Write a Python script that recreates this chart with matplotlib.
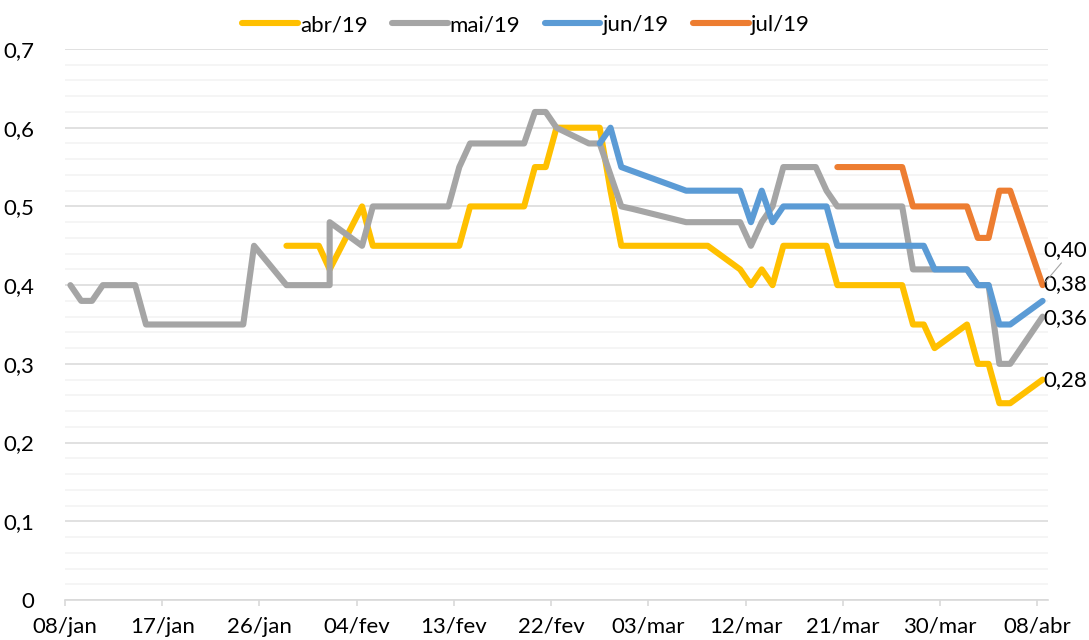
import matplotlib
matplotlib.use("Agg")
import matplotlib.pyplot as plt
import matplotlib.dates as mdates
from matplotlib.ticker import MultipleLocator

plt.rcParams['font.family'] = ['Lato', 'DejaVu Sans']

# dados (datas de negociação, valores)
abr_datas = ['2019-01-28', '2019-01-29', '2019-01-30', '2019-01-31', '2019-02-01',
             '2019-02-04', '2019-02-05', '2019-02-06', '2019-02-07', '2019-02-08',
             '2019-02-11', '2019-02-12', '2019-02-13', '2019-02-14', '2019-02-15',
             '2019-02-18', '2019-02-19', '2019-02-20', '2019-02-21', '2019-02-22',
             '2019-02-25', '2019-02-26', '2019-02-27', '2019-02-28', '2019-03-01',
             '2019-03-06', '2019-03-07', '2019-03-08', '2019-03-11', '2019-03-12',
             '2019-03-13', '2019-03-14', '2019-03-15', '2019-03-18', '2019-03-19',
             '2019-03-20', '2019-03-21', '2019-03-22', '2019-03-25', '2019-03-26',
             '2019-03-27', '2019-03-28', '2019-03-29', '2019-04-01', '2019-04-02',
             '2019-04-03', '2019-04-04', '2019-04-05', '2019-04-08']
abr_vals = [0.45, 0.45, 0.45, 0.45, 0.42,
            0.50, 0.45, 0.45, 0.45, 0.45,
            0.45, 0.45, 0.45, 0.50, 0.50,
            0.50, 0.50, 0.55, 0.55, 0.60,
            0.60, 0.60, 0.52, 0.45, 0.45,
            0.45, 0.45, 0.45, 0.42, 0.40,
            0.42, 0.40, 0.45, 0.45, 0.45,
            0.40, 0.40, 0.40, 0.40, 0.40,
            0.35, 0.35, 0.32, 0.35, 0.30,
            0.30, 0.25, 0.25, 0.28]

mai_datas = ['2019-01-08', '2019-01-09', '2019-01-10', '2019-01-11', '2019-01-14',
             '2019-01-15', '2019-01-16', '2019-01-17', '2019-01-18', '2019-01-21',
             '2019-01-22', '2019-01-23', '2019-01-24', '2019-01-25', '2019-01-28',
             '2019-01-29', '2019-01-30', '2019-01-31', '2019-02-01', '2019-02-01',
             '2019-02-04', '2019-02-05', '2019-02-06', '2019-02-07', '2019-02-08',
             '2019-02-11', '2019-02-12', '2019-02-13', '2019-02-14', '2019-02-15',
             '2019-02-18', '2019-02-19', '2019-02-20', '2019-02-21', '2019-02-22',
             '2019-02-25', '2019-02-26', '2019-02-27', '2019-02-28', '2019-03-01',
             '2019-03-06', '2019-03-07', '2019-03-08', '2019-03-11', '2019-03-12',
             '2019-03-13', '2019-03-14', '2019-03-15', '2019-03-18', '2019-03-19',
             '2019-03-20', '2019-03-21', '2019-03-22', '2019-03-25', '2019-03-26',
             '2019-03-27', '2019-03-28', '2019-03-29', '2019-04-01', '2019-04-02',
             '2019-04-03', '2019-04-04', '2019-04-05', '2019-04-08']
mai_vals = [0.40, 0.38, 0.38, 0.40, 0.40,
            0.35, 0.35, 0.35, 0.35, 0.35,
            0.35, 0.35, 0.35, 0.45, 0.40,
            0.40, 0.40, 0.40, 0.40, 0.48,
            0.45, 0.50, 0.50, 0.50, 0.50,
            0.50, 0.50, 0.55, 0.58, 0.58,
            0.58, 0.58, 0.62, 0.62, 0.60,
            0.58, 0.58, 0.54, 0.50, 0.497,
            0.48, 0.48, 0.48, 0.48, 0.45,
            0.48, 0.50, 0.55, 0.55, 0.52,
            0.50, 0.50, 0.50, 0.50, 0.50,
            0.42, 0.42, 0.42, 0.42, 0.40,
            0.40, 0.30, 0.30, 0.36]

jun_datas = ['2019-02-26', '2019-02-27', '2019-02-28', '2019-03-01', '2019-03-06',
             '2019-03-07', '2019-03-08', '2019-03-11', '2019-03-12', '2019-03-13',
             '2019-03-14', '2019-03-15', '2019-03-18', '2019-03-19', '2019-03-20',
             '2019-03-21', '2019-03-22', '2019-03-25', '2019-03-26', '2019-03-27',
             '2019-03-28', '2019-03-29', '2019-04-01', '2019-04-02', '2019-04-03',
             '2019-04-04', '2019-04-05', '2019-04-08']
jun_vals = [0.58, 0.60, 0.55, 0.545, 0.52,
            0.52, 0.52, 0.52, 0.48, 0.52,
            0.48, 0.50, 0.50, 0.50, 0.45,
            0.45, 0.45, 0.45, 0.45, 0.45,
            0.45, 0.42, 0.42, 0.40, 0.40,
            0.35, 0.35, 0.38]

jul_datas = ['2019-03-20', '2019-03-21', '2019-03-22', '2019-03-25', '2019-03-26',
             '2019-03-27', '2019-03-28', '2019-03-29', '2019-04-01', '2019-04-02',
             '2019-04-03', '2019-04-04', '2019-04-05', '2019-04-08']
jul_vals = [0.55, 0.55, 0.55, 0.55, 0.55,
            0.50, 0.50, 0.50, 0.50, 0.46,
            0.46, 0.52, 0.52, 0.40]

series_names = ['abr/19', 'mai/19', 'jun/19', 'jul/19']
cores = ['#FFC000', '#A5A5A5', '#5B9BD5', '#ED7D31']

tick_datas = ['2019-01-08', '2019-01-17', '2019-01-26', '2019-02-04', '2019-02-13',
              '2019-02-22', '2019-03-03', '2019-03-12', '2019-03-21', '2019-03-30',
              '2019-04-08']
tick_labels = ['08/jan', '17/jan', '26/jan', '04/fev', '13/fev', '22/fev',
               '03/mar', '12/mar', '21/mar', '30/mar', '08/abr']

fs = 16

fig = plt.figure(figsize=(10.89, 6.40), dpi=100)
ax = fig.add_axes([65 / 1089, 1 - 600 / 640, 983 / 1089, 551 / 640])

todas = [(abr_datas, abr_vals), (mai_datas, mai_vals),
         (jun_datas, jun_vals), (jul_datas, jul_vals)]

linhas = []
for (datas, vals), nome, cor in zip(todas, series_names, cores):
    x = mdates.datestr2num(datas) + 0.5  # pontos no meio do dia (eixo de datas do Excel)
    ln, = ax.plot(x, vals, color=cor, lw=4.4, label=nome,
                  solid_capstyle='round', solid_joinstyle='round', zorder=3)
    linhas.append(ln)

# rótulos dos últimos valores
offsets = [0, -1, 17, 35]  # em pixels, para cima
for (datas, vals), cor, dy in zip(todas, cores, offsets):
    xe = mdates.datestr2num(datas[-1]) + 0.5
    ye = vals[-1]
    txt = f"{ye:.2f}".replace('.', ',')
    if dy > 30:
        ax.annotate(txt, (xe, ye), xytext=(1, dy), textcoords='offset pixels',
                    ha='left', va='center', fontsize=fs, annotation_clip=False,
                    arrowprops=dict(arrowstyle='-', color='#A5A5A5', lw=0.8,
                                    shrinkA=0, shrinkB=3, relpos=(0.5, 0.1)))
    else:
        ax.annotate(txt, (xe, ye), xytext=(1, dy), textcoords='offset pixels',
                    ha='left', va='center', fontsize=fs, annotation_clip=False)

ax.set_xlim(mdates.datestr2num('2019-01-08'), mdates.datestr2num('2019-04-09'))
ax.set_ylim(0, 0.7)

ax.set_xticks(mdates.datestr2num(tick_datas))
ax.set_xticklabels(tick_labels)
ax.yaxis.set_major_locator(MultipleLocator(0.1))
ax.yaxis.set_minor_locator(MultipleLocator(0.02))
ax.yaxis.set_major_formatter(lambda v, p: '0' if abs(v) < 1e-9 else f"{v:.1f}".replace('.', ','))

ax.grid(axis='y', which='major', color='#D9D9D9', lw=1.1, zorder=0)
ax.grid(axis='y', which='minor', color='#F2F2F2', lw=1.1, zorder=0)
ax.set_axisbelow(True)

for s in ['top', 'right', 'left']:
    ax.spines[s].set_visible(False)
ax.spines['bottom'].set_color('#D9D9D9')
ax.spines['bottom'].set_linewidth(1.2)

ax.tick_params(axis='x', which='major', direction='out', length=4, width=1.2,
               color='#D9D9D9', pad=8, labelsize=fs, labelcolor='black')
ax.tick_params(axis='y', which='both', length=0, pad=22, labelsize=fs, labelcolor='black')

fig.legend(handles=linhas, loc='center', bbox_to_anchor=(526 / 1089, 1 - 25 / 640),
           ncol=4, frameon=False, fontsize=fs, handlelength=2.5, handletextpad=0.1,
           columnspacing=1.1)

fig.savefig('out.png', dpi=100)
